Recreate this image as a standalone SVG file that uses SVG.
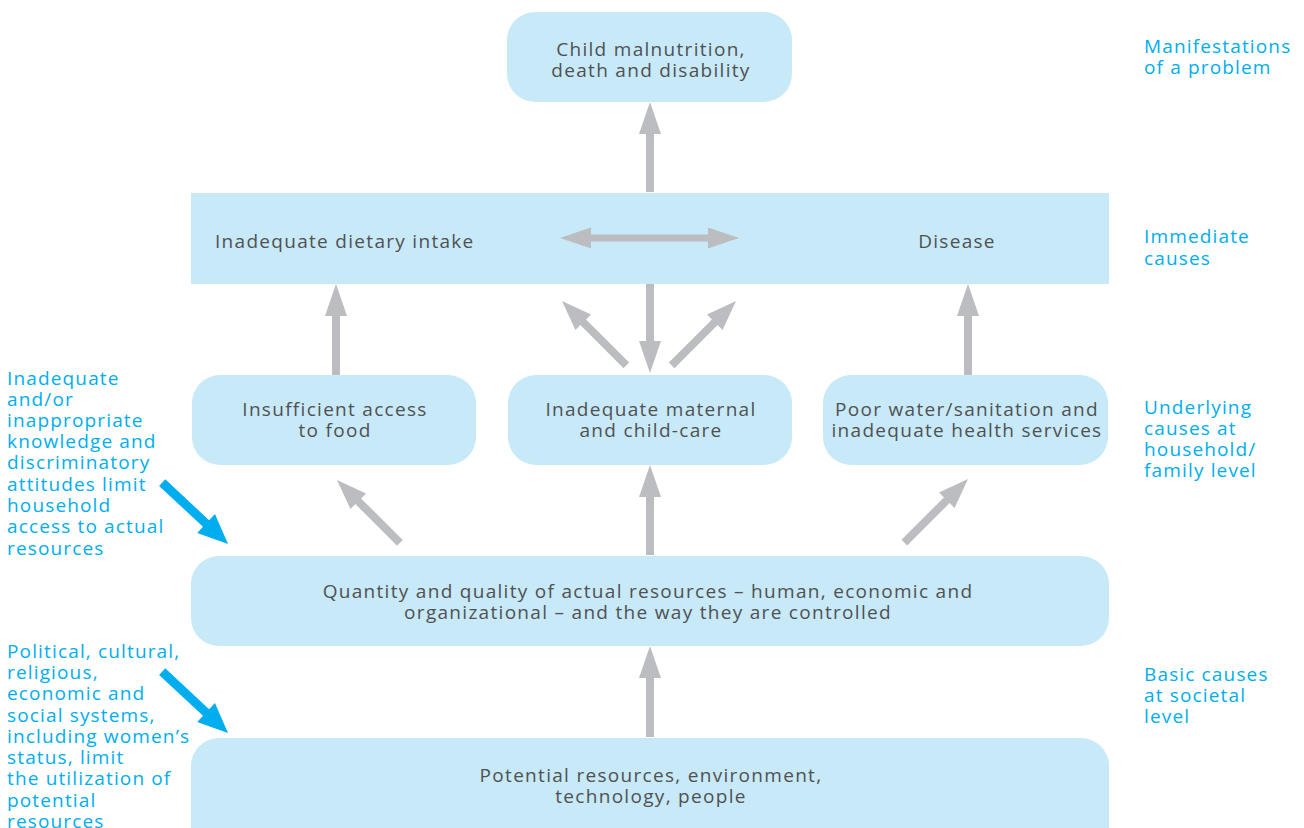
<svg xmlns="http://www.w3.org/2000/svg" width="1304" height="828" viewBox="0 0 1304 828">
<defs>
<style>
.box{fill:#c7e9f8}
.t{font-family:"Open Sans","Liberation Sans",sans-serif;font-size:19px;fill:#505153;letter-spacing:1.3px;text-anchor:middle}
.tl{text-anchor:start}
.b{font-family:"Open Sans","Liberation Sans",sans-serif;font-size:19px;fill:#00aeef;letter-spacing:1.15px}
.ga{fill:#bcbdc1}
.ba{fill:#00aeef}
</style>
</defs>
<rect width="1304" height="828" fill="#ffffff"/>

<g id="manifestation">
<rect class="box" x="507" y="12" width="285" height="90" rx="28"/>
<text class="t" x="651" y="56">Child malnutrition,</text>
<text class="t" x="651" y="77">death and disability</text>
</g>

<g id="immediate">
<rect class="box" x="191" y="193" width="918" height="91"/>
<text class="t tl" x="215" y="248">Inadequate dietary intake</text>
<text class="t" x="957" y="248">Disease</text>
</g>

<g id="food">
<rect class="box" x="192" y="375" width="284" height="90" rx="28"/>
<text class="t" x="335" y="416">Insufficient access</text>
<text class="t" x="335" y="437">to food</text>
</g>

<g id="care">
<rect class="box" x="508" y="375" width="284" height="90" rx="28"/>
<text class="t" x="651" y="416">Inadequate maternal</text>
<text class="t" x="651" y="437">and child-care</text>
</g>

<g id="water">
<rect class="box" x="823" y="375" width="285" height="90" rx="28"/>
<text class="t" x="967" y="416">Poor water/sanitation and</text>
<text class="t" x="967" y="437">inadequate health services</text>
</g>

<g id="resources">
<rect class="box" x="191" y="556" width="918" height="90" rx="28"/>
<text class="t" x="648" y="598">Quantity and quality of actual resources – human, economic and</text>
<text class="t" x="648" y="619">organizational – and the way they are controlled</text>
</g>

<g id="potential">
<rect class="box" x="191" y="738" width="918" height="120" rx="28"/>
<text class="t" x="651" y="782">Potential resources, environment,</text>
<text class="t" x="651" y="803">technology, people</text>
</g>

<g id="connectors">
<polygon class="ga" transform="translate(650,102)" points="0,0 11,32 4,32 4,90 -4,90 -4,32 -11,32"/>
<path class="ga" d="M560,238 L591,227.5 L591,234.5 L708,234.5 L708,227.5 L739,238 L708,248.5 L708,241.5 L591,241.5 L591,248.5 Z"/>
<polygon class="ga" transform="translate(336,284)" points="0,0 11,32 4,32 4,91 -4,91 -4,32 -11,32"/>
<polygon class="ga" transform="translate(968,284)" points="0,0 11,32 4,32 4,91 -4,91 -4,32 -11,32"/>
<polygon class="ga" transform="translate(650,373) rotate(180)" points="0,0 11,32 4,32 4,89 -4,89 -4,32 -11,32"/>
<polygon class="ga" transform="translate(562,301) rotate(-45)" points="0,0 11,30 4,30 4,91 -4,91 -4,30 -11,30"/>
<polygon class="ga" transform="translate(736,301) rotate(45)" points="0,0 11,30 4,30 4,91 -4,91 -4,30 -11,30"/>
<polygon class="ga" transform="translate(337,480) rotate(-45)" points="0,0 11,30 4,30 4,89 -4,89 -4,30 -11,30"/>
<polygon class="ga" transform="translate(968,479) rotate(45)" points="0,0 11,30 4,30 4,90 -4,90 -4,30 -11,30"/>
<polygon class="ga" transform="translate(650,465)" points="0,0 11,32 4,32 4,90 -4,90 -4,32 -11,32"/>
<polygon class="ga" transform="translate(650,646)" points="0,0 11,32 4,32 4,91 -4,91 -4,32 -11,32"/>
<polygon class="ba" transform="translate(228,544) rotate(133)" points="0,0 13,30 4.5,30 4.5,90 -4.5,90 -4.5,30 -13,30"/>
<polygon class="ba" transform="translate(228,733) rotate(133)" points="0,0 13,30 4.5,30 4.5,90 -4.5,90 -4.5,30 -13,30"/>
</g>

<g id="level-labels">
<text class="b" x="1144" y="53">Manifestations</text>
<text class="b" x="1144" y="74">of a problem</text>
<text class="b" x="1144" y="243">Immediate</text>
<text class="b" x="1144" y="265">causes</text>
<text class="b" x="1144" y="414">Underlying</text>
<text class="b" x="1144" y="435">causes at</text>
<text class="b" x="1144" y="456">household/</text>
<text class="b" x="1144" y="477">family level</text>
<text class="b" x="1144" y="681">Basic causes</text>
<text class="b" x="1144" y="702">at societal</text>
<text class="b" x="1144" y="723">level</text>
</g>

<g id="knowledge-label">
<text class="b" x="7" y="385">Inadequate</text>
<text class="b" x="7" y="406">and/or</text>
<text class="b" x="7" y="427">inappropriate</text>
<text class="b" x="7" y="448">knowledge and</text>
<text class="b" x="7" y="469">discriminatory</text>
<text class="b" x="7" y="491">attitudes limit</text>
<text class="b" x="7" y="512">household</text>
<text class="b" x="7" y="533">access to actual</text>
<text class="b" x="7" y="555">resources</text>
</g>

<g id="systems-label">
<text class="b" x="7" y="658">Political, cultural,</text>
<text class="b" x="7" y="679">religious,</text>
<text class="b" x="7" y="700">economic and</text>
<text class="b" x="7" y="722">social systems,</text>
<text class="b" x="7" y="743">including women’s</text>
<text class="b" x="7" y="764">status, limit</text>
<text class="b" x="7" y="785">the utilization of</text>
<text class="b" x="7" y="807">potential</text>
<text class="b" x="7" y="828">resources</text>
</g>
</svg>
